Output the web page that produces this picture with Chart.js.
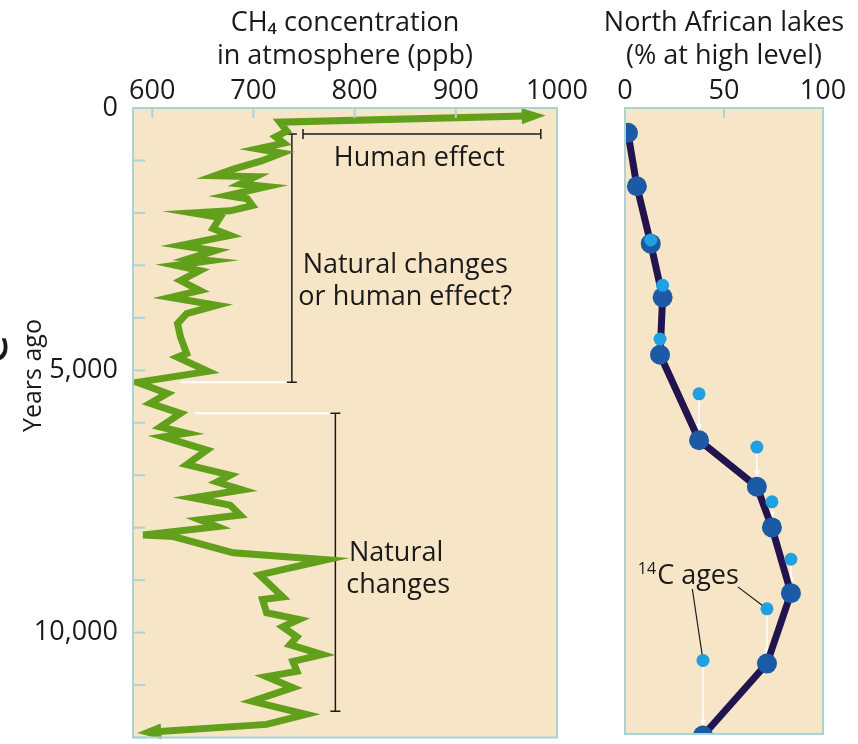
<!DOCTYPE html>
<html>
<head>
<meta charset="utf-8">
<script src="https://cdn.jsdelivr.net/npm/chart.js@4"></script>
<style>
  html, body { margin: 0; padding: 0; background: #fff; }
  #wrap { position: relative; width: 858px; height: 744px; overflow: hidden; }
  #ch4Chart { position: absolute; left: 0; top: 0; }
  #lakeChart { position: absolute; left: 590px; top: 0; }
</style>
</head>
<body>
<div id="wrap">
  <canvas id="ch4Chart" width="590" height="744"></canvas>
  <canvas id="lakeChart" width="268" height="744"></canvas>
</div>
<script>
// CH4 record (years ago, ppb)
const ch4Years = [150, 270, 440, 550, 670, 780, 860, 1010, 1160, 1290, 1310, 1450, 1500, 1670, 1730,
  1860, 1960, 2000, 2090, 2300, 2430, 2620, 2720, 2870, 2910, 3000, 3100, 3290, 3480, 3610,
  3760, 3920, 4110, 4370, 4680, 4750, 5020, 5230, 5440, 5630, 5820, 6080, 6200, 6270, 6520,
  6800, 7000, 7130, 7280, 7430, 7570, 7760, 7850, 7980, 8140, 8170, 8480, 8610, 8900, 9320,
  9370, 9620, 9750, 9890, 10080, 10230, 10420, 10550, 10740, 10840, 11050, 11310, 11560, 11750, 11900];
const ch4Ppb = [978, 726, 733, 722, 730, 704, 728, 708, 681, 662, 702, 687, 713, 674, 694,
  699, 677, 640, 667, 660, 677, 628, 662, 637, 657, 623, 647, 628, 647, 618,
  664, 634, 625, 628, 634, 625, 655, 585, 615, 598, 628, 608, 634, 611, 654,
  634, 677, 664, 689, 640, 677, 687, 647, 664, 591, 621, 680, 772, 706, 729,
  709, 713, 745, 729, 743, 736, 768, 739, 743, 713, 739, 699, 752, 713, 596];
const ppbTicks = [600, 700, 800, 900, 1000];
const yearTicks = [0, 1000, 2000, 3000, 4000, 5000, 6000, 7000, 8000, 9000, 10000, 11000, 12000];
const yearLabels = [0, 5000, 10000];

// North African lake levels: calendar ages and the 14C ages they were shifted from
const lakePct = [1.5, 6, 13, 19, 17.7, 37.4, 66.6, 74.2, 83.8, 71.7, 39.4];
const lakeCalYears = [475, 1500, 2600, 3630, 4730, 6370, 7260, 8040, 9300, 10650, 12030];
const c14Years = [null, null, 2530, 3400, 4430, 5480, 6500, 7550, 8650, 9600, 10590];
const pctTicks = [0, 50, 100];

const FONT = '"Open Sans", Lato, sans-serif';
const INK = '#1a1a1a';
const PANEL = 'rgb(246,230,199)';
const EDGE = 'rgb(170,211,214)';
const GREEN = 'rgb(98,160,28)';
const NAVY = 'rgb(34,20,78)';
const DOT = 'rgb(28,90,166)';
const C14 = 'rgb(32,160,224)';

const TITLE_SIZE = 27;
const TITLE_LINE = 1.25;
const TITLE_TOP = 6;

const xy = (xs, ys) => xs.map((v, i) => ({ x: v, y: ys[i] }));

// beige panel, thin teal frame and inward tick marks
const panelDecor = {
  id: 'panelDecor',
  beforeDraw(chart) {
    const { ctx, chartArea: a } = chart;
    ctx.save();
    ctx.fillStyle = PANEL;
    ctx.fillRect(a.left, a.top, a.right - a.left, a.bottom - a.top);
    ctx.restore();
  },
  afterDraw(chart, args, opts) {
    const { ctx, chartArea: a, scales } = chart;
    ctx.save();
    ctx.strokeStyle = EDGE;
    ctx.lineWidth = 2;
    ctx.strokeRect(a.left, a.top, a.right - a.left, a.bottom - a.top);
    scales.x.ticks.forEach(t => {
      const px = scales.x.getPixelForValue(t.value);
      ctx.beginPath(); ctx.moveTo(px, a.top); ctx.lineTo(px, a.top + 10); ctx.stroke();
    });
    if (opts.yTicks) {
      scales.y.ticks.forEach(t => {
        const py = scales.y.getPixelForValue(t.value);
        ctx.beginPath(); ctx.moveTo(a.left, py); ctx.lineTo(a.left + 12, py); ctx.stroke();
      });
    }
    // heading lines centred over the panel (may be wider than the panel itself)
    if (opts.heading) {
      const lh = TITLE_SIZE * TITLE_LINE;
      ctx.fillStyle = INK;
      ctx.font = `${TITLE_SIZE}px ${FONT}`;
      ctx.textAlign = 'center';
      ctx.textBaseline = 'middle';
      const cx = (a.left + a.right) / 2;
      opts.heading.forEach((line, i) => ctx.fillText(line, cx, TITLE_TOP + lh / 2 + i * lh));
    }
    ctx.restore();
  }
};

function arrowHead(ctx, from, to, color) {
  const ang = Math.atan2(to.y - from.y, to.x - from.x);
  ctx.save();
  ctx.translate(to.x, to.y);
  ctx.rotate(ang);
  ctx.fillStyle = color;
  ctx.beginPath();
  ctx.moveTo(11, 0);
  ctx.lineTo(-13, -8);
  ctx.lineTo(-13, 8);
  ctx.closePath();
  ctx.fill();
  ctx.restore();
}

const ch4Notes = [
  { text: 'Human effect', ppb: 864, years: 950 },
  { text: 'Natural changes', ppb: 850, years: 2990 },
  { text: 'or human effect?', ppb: 850, years: 3610 },
  { text: 'Natural', ppb: 841, years: 8480 },
  { text: 'changes', ppb: 843, years: 9090 }
];

const ch4Labels = {
  id: 'ch4Labels',
  afterDatasetsDraw(chart) {
    const { ctx, scales: { x, y } } = chart;
    const pts = chart.getDatasetMeta(0).data;
    arrowHead(ctx, pts[1], pts[0], GREEN);
    arrowHead(ctx, pts[pts.length - 2], pts[pts.length - 1], GREEN);

    ctx.save();
    ctx.fillStyle = INK;
    ctx.font = `27px ${FONT}`;
    ctx.textAlign = 'center';
    ctx.textBaseline = 'middle';
    ch4Notes.forEach(n => ctx.fillText(n.text, x.getPixelForValue(n.ppb), y.getPixelForValue(n.years)));

    // vertical axis caption
    ctx.save();
    ctx.translate(34, y.getPixelForValue(5100));
    ctx.rotate(-Math.PI / 2);
    ctx.font = `25px ${FONT}`;
    ctx.fillText('Years ago', 0, 0);
    ctx.restore();

    // edge of a neighbouring caption
    ctx.save();
    ctx.translate(7, y.getPixelForValue(4600));
    ctx.rotate(-Math.PI / 2);
    ctx.font = `54px ${FONT}`;
    ctx.textBaseline = 'alphabetic';
    ctx.fillText('e', 0, 0);
    ctx.restore();
    ctx.restore();
  }
};

const bracketStyle = {
  showLine: true, borderColor: INK, borderWidth: 1.5,
  pointStyle: 'line', pointRadius: 5, pointBorderColor: INK, pointBorderWidth: 1.5, order: 3
};
const guideStyle = { showLine: true, borderColor: '#fff', borderWidth: 2, pointRadius: 0, order: 4 };

// keep the plot frame where the axes put it, no room reserved for end labels
const noEdgePadding = s => { s.paddingTop = 0; s.paddingBottom = 0; };

const tickFont = { family: FONT, size: 27 };

new Chart(document.getElementById('ch4Chart'), {
  type: 'scatter',
  data: {
    datasets: [
      { data: xy(ch4Ppb, ch4Years), showLine: true, borderColor: GREEN, borderWidth: 7,
        borderJoinStyle: 'miter', pointRadius: 0, order: 0 },
      { ...guideStyle, data: xy([628, 738], [5230, 5230]) },
      { ...guideStyle, data: xy([642, 781], [5820, 5820]) },
      { ...bracketStyle, data: xy([749, 984], [494, 494]), pointRotation: 90 },
      { ...bracketStyle, data: xy([738, 738], [494, 5230]) },
      { ...bracketStyle, data: xy([781, 781], [5820, 11500]) }
    ]
  },
  options: {
    responsive: false,
    animation: false,
    layout: { padding: { left: 0, right: 33, top: 0, bottom: 5 } },
    plugins: {
      legend: { display: false }, tooltip: { enabled: false },
      panelDecor: { yTicks: true, heading: ['CH\u2084 concentration', 'in atmosphere (ppb)'] }
    },
    scales: {
      x: {
        type: 'linear', position: 'top', min: 581, max: 1000,
        afterBuildTicks: s => { s.ticks = ppbTicks.map(v => ({ value: v })); },
        afterFit: s => { s.height = 108; },
        grid: { display: false }, border: { display: false },
        ticks: { font: tickFont, color: INK, padding: -8, maxRotation: 0, autoSkip: false,
          callback: v => String(v) }
      },
      y: {
        type: 'linear', reverse: true, min: 0, max: 12000,
        afterBuildTicks: s => { s.ticks = yearTicks.map(v => ({ value: v })); },
        afterFit: s => { s.width = 133; noEdgePadding(s); },
        grid: { display: false }, border: { display: false },
        ticks: { font: tickFont, color: INK, padding: 7, autoSkip: false,
          callback: v => yearLabels.includes(v) ? v.toLocaleString('en-US') : '' }
      }
    }
  },
  plugins: [panelDecor, ch4Labels]
});

const lakeLabels = {
  id: 'lakeLabels',
  beforeDatasetsDraw(chart) {
    const { ctx, scales: { x, y } } = chart;
    ctx.save();
    ctx.strokeStyle = '#fff';
    ctx.fillStyle = '#fff';
    ctx.lineWidth = 1.5;
    c14Years.forEach((yr, i) => {
      if (yr == null) return;
      const px = x.getPixelForValue(lakePct[i]);
      const y0 = y.getPixelForValue(yr) + 6;
      const y1 = y.getPixelForValue(lakeCalYears[i]) - 9;
      if (y1 - y0 < 6) return;
      ctx.beginPath(); ctx.moveTo(px, y0); ctx.lineTo(px, y1 - 4); ctx.stroke();
      ctx.beginPath(); ctx.moveTo(px, y1); ctx.lineTo(px - 3, y1 - 7); ctx.lineTo(px + 3, y1 - 7); ctx.closePath(); ctx.fill();
    });
    ctx.restore();
  },
  afterDatasetsDraw(chart) {
    const { ctx, scales: { x, y } } = chart;
    ctx.save();
    ctx.fillStyle = INK;
    ctx.textBaseline = 'alphabetic';
    const lx = x.getPixelForValue(6.5);
    const base = y.getPixelForValue(9130);
    ctx.font = `16px ${FONT}`;
    ctx.fillText('14', lx, base - 10);
    const w = ctx.measureText('14').width;
    ctx.font = `27px ${FONT}`;
    ctx.fillText('C ages', lx + w + 1, base);

    // leader lines to two of the 14C points
    ctx.strokeStyle = INK;
    ctx.lineWidth = 1.2;
    [[34, 9220, 10], [57, 9180, 9]].forEach(([p, yr, i]) => {
      const sx = x.getPixelForValue(p), sy = y.getPixelForValue(yr);
      const ex = x.getPixelForValue(lakePct[i]), ey = y.getPixelForValue(c14Years[i]);
      const d = Math.hypot(ex - sx, ey - sy);
      ctx.beginPath();
      ctx.moveTo(sx, sy);
      ctx.lineTo(ex - (ex - sx) / d * 6, ey - (ey - sy) / d * 6);
      ctx.stroke();
    });
    ctx.restore();
  }
};

new Chart(document.getElementById('lakeChart'), {
  type: 'scatter',
  data: {
    datasets: [
      { data: xy(lakePct, c14Years).filter(p => p.y != null), pointRadius: 6.5,
        pointBackgroundColor: C14, pointBorderWidth: 0, order: 0 },
      { data: xy(lakePct, lakeCalYears), showLine: true, borderColor: NAVY, borderWidth: 7,
        pointRadius: 10, pointBackgroundColor: DOT, pointBorderWidth: 0, order: 1 }
    ]
  },
  options: {
    responsive: false,
    animation: false,
    layout: { padding: { left: 35, right: 35, top: 0, bottom: 5 } },
    plugins: {
      legend: { display: false }, tooltip: { enabled: false },
      panelDecor: { yTicks: false, heading: ['North African lakes', '(% at high level)'] }
    },
    scales: {
      x: {
        type: 'linear', position: 'top', min: 0, max: 100,
        afterBuildTicks: s => { s.ticks = pctTicks.map(v => ({ value: v })); },
        afterFit: s => { s.height = 108; },
        grid: { display: false }, border: { display: false },
        ticks: { font: tickFont, color: INK, padding: -8, maxRotation: 0, autoSkip: false }
      },
      y: { type: 'linear', display: false, reverse: true, min: 0, max: 12000 }
    }
  },
  plugins: [panelDecor, lakeLabels]
});
</script>
</body>
</html>
